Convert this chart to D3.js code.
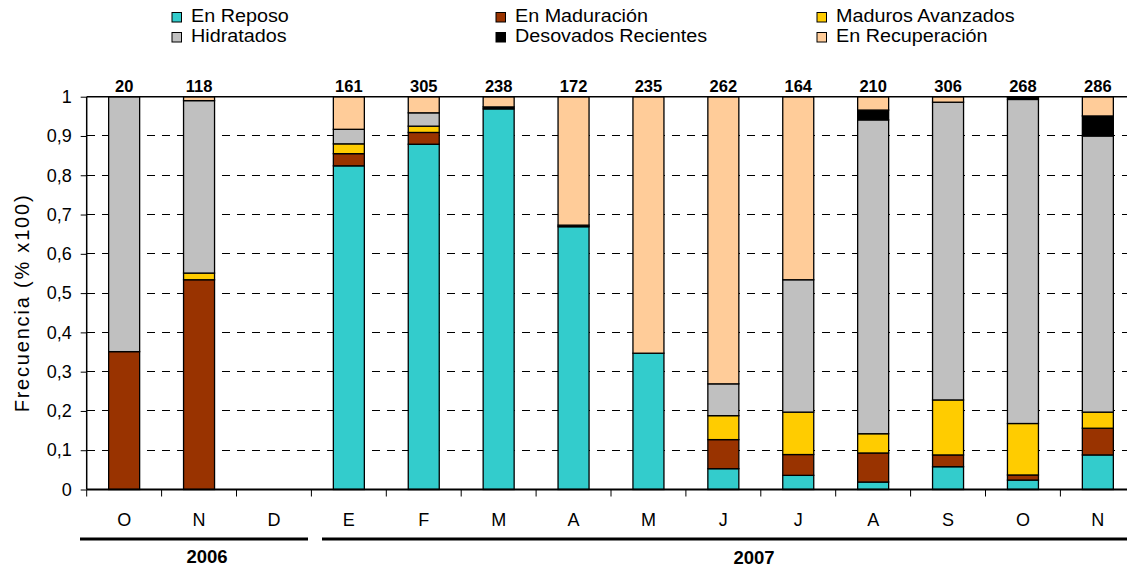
<!DOCTYPE html>
<html>
<head>
<meta charset="utf-8">
<script src="https://cdn.jsdelivr.net/npm/d3@7"></script>
<style>
  html, body { margin: 0; padding: 0; background: #fff; }
  svg { display: block; font-family: "Liberation Sans", Arial, sans-serif; }
</style>
</head>
<body>
<svg id="chart" width="1127" height="569"></svg>
<script>
// ---- Data ----
const months = ["O","N","D","E","F","M","A","M","J","J","A","S","O","N"];
const counts = [20,118,null,161,305,238,172,235,262,164,210,306,268,286];
const enReposo        = [0,     0,     null, 0.824, 0.879, 0.969, 0.669, 0.347, 0.053, 0.036, 0.019, 0.058, 0.024, 0.088];
const enMaduracion    = [0.351, 0.534, null, 0.031, 0.030, 0,     0,     0,     0.074, 0.053, 0.074, 0.030, 0.013, 0.068];
const madurosAvanzados= [0,     0.017, null, 0.025, 0.016, 0,     0,     0,     0.061, 0.108, 0.049, 0.140, 0.131, 0.041];
const hidratados      = [0.649, 0.439, null, 0.037, 0.034, 0,     0,     0,     0.081, 0.337, 0.799, 0.758, 0.825, 0.703];
const desovados       = [0,     0,     null, 0,     0,     0.005, 0.004, 0,     0,     0,     0.025, 0,     0.005, 0.051];
const enRecuperacion  = [0,     0.010, null, 0.083, 0.041, 0.026, 0.327, 0.653, 0.731, 0.466, 0.034, 0.014, 0.002, 0.049];
const seriesNames = ["En Reposo","En Maduración","Maduros Avanzados","Hidratados","Desovados Recientes","En Recuperación"];
const seriesColors = ["#33CCCC","#993300","#FFCC00","#C0C0C0","#000000","#FFCC99"];
const yTicks = [0,0.1,0.2,0.3,0.4,0.5,0.6,0.7,0.8,0.9,1];
const years = ["2006","2007"];

const seriesValues = [enReposo, enMaduracion, madurosAvanzados, hidratados, desovados, enRecuperacion];
const keys = seriesNames;
const rows = months.map((m, i) => {
  const r = { idx: i, month: m, count: counts[i], empty: enReposo[i] === null };
  keys.forEach((k, j) => { r[k] = seriesValues[j][i] || 0; });
  return r;
});

// ---- Layout ----
const svg = d3.select("#chart");
const left = 86.7, bandW = 74.9;
const x = d3.scaleBand().domain(d3.range(months.length)).range([left, left + bandW * months.length]).paddingInner(0).paddingOuter(0);
const y = d3.scaleLinear().domain([0, 1]).range([489.5, 96.7]);
const barW = 31;
const rightEdge = 1140;

// gridlines
svg.append("g").selectAll("line").data(yTicks.filter(t => t > 0 && t < 1)).join("line")
  .attr("x1", left).attr("x2", rightEdge)
  .attr("y1", d => y(d)).attr("y2", d => y(d))
  .attr("stroke", "#000").attr("stroke-width", 1).attr("stroke-dasharray", "8,7")
  .attr("shape-rendering", "crispEdges");

// bars
const stacked = d3.stack().keys(keys)(rows);
const barsG = svg.append("g");
stacked.forEach((layer, li) => {
  barsG.append("g").selectAll("rect")
    .data(layer.filter(d => !d.data.empty && (d[1] - d[0]) > 0))
    .join("rect")
    .attr("x", d => x(d.data.idx) + x.bandwidth() / 2 - barW / 2)
    .attr("width", barW)
    .attr("y", d => y(d[1]))
    .attr("height", d => y(d[0]) - y(d[1]))
    .attr("fill", seriesColors[li])
    .attr("stroke", "#000")
    .attr("stroke-width", 1.3);
});

// plot frame: top + left
svg.append("line").attr("x1", left).attr("x2", rightEdge).attr("y1", y(1)).attr("y2", y(1))
  .attr("stroke", "#000").attr("stroke-width", 1.5);
svg.append("line").attr("x1", left).attr("x2", left).attr("y1", y(1)).attr("y2", y(0))
  .attr("stroke", "#000").attr("stroke-width", 1.5);

// y axis
const yAxis = d3.axisLeft(y).tickValues(yTicks).tickSize(6).tickPadding(9)
  .tickFormat(d => d3.format(".1~f")(d).replace(".", ","));
const yg = svg.append("g").attr("transform", `translate(${left},0)`).call(yAxis);
yg.select(".domain").remove();
yg.selectAll(".tick line").attr("stroke", "#000").attr("stroke-width", 1);
yg.selectAll(".tick text").attr("font-size", 18).attr("fill", "#000")
  .attr("font-family", "'Liberation Sans', Arial, sans-serif");

// x axis
const xAxis = d3.axisBottom(x).tickSize(0).tickPadding(24).tickFormat(i => months[i]);
const xg = svg.append("g").attr("transform", `translate(0,${y(0)})`).call(xAxis);
xg.select(".domain").remove();
xg.selectAll(".tick text").attr("font-size", 18).attr("fill", "#000")
  .attr("font-family", "'Liberation Sans', Arial, sans-serif");
// boundary ticks
svg.append("g").selectAll("line").data(d3.range(months.length)).join("line")
  .attr("x1", i => x(i)).attr("x2", i => x(i))
  .attr("y1", y(0)).attr("y2", y(0) + 7)
  .attr("stroke", "#000").attr("stroke-width", 1);
svg.append("line").attr("x1", left).attr("x2", rightEdge).attr("y1", y(0)).attr("y2", y(0))
  .attr("stroke", "#000").attr("stroke-width", 2);

// count labels
svg.append("g").selectAll("text").data(rows.filter(r => r.count !== null)).join("text")
  .attr("x", d => x(d.idx) + x.bandwidth() / 2)
  .attr("y", 91.5)
  .attr("text-anchor", "middle")
  .attr("font-size", 16.5).attr("font-weight", "bold")
  .text(d => d.count);

// year lines and labels
svg.append("line").attr("x1", x(0) - 6.7).attr("x2", x(3) - 3.4).attr("y1", 539).attr("y2", 539)
  .attr("stroke", "#000").attr("stroke-width", 3);
svg.append("line").attr("x1", x(3) + 10.6).attr("x2", rightEdge).attr("y1", 539).attr("y2", 539)
  .attr("stroke", "#000").attr("stroke-width", 3);
svg.append("text").attr("x", 207).attr("y", 563).attr("text-anchor", "middle")
  .attr("font-size", 18.5).attr("font-weight", "bold").text(years[0]);
svg.append("text").attr("x", 754).attr("y", 564).attr("text-anchor", "middle")
  .attr("font-size", 18.5).attr("font-weight", "bold").text(years[1]);

// y title
svg.append("text").attr("transform", "translate(29,303) rotate(-90)")
  .attr("text-anchor", "middle").attr("font-size", 20).attr("letter-spacing", "1.8px")
  .text("Frecuencia (% x100)");

// legend
const legendPos = [[172,12.5],[496,12.5],[817,12.5],[172,32.5],[496,32.5],[817,32.5]];
const legendOrder = [0,1,2,3,4,5];
const lg = svg.append("g").selectAll("g").data(legendOrder).join("g")
  .attr("transform", (d, i) => `translate(${legendPos[i][0]},${legendPos[i][1]})`);
lg.append("rect").attr("width", 9.5).attr("height", 9.5)
  .attr("fill", d => seriesColors[d]).attr("stroke", "#000").attr("stroke-width", 1);
lg.append("text").attr("transform", "translate(19,9.5) scale(1.13,1)").attr("font-size", 17.5)
  .text(d => seriesNames[d]);
</script>
</body>
</html>
